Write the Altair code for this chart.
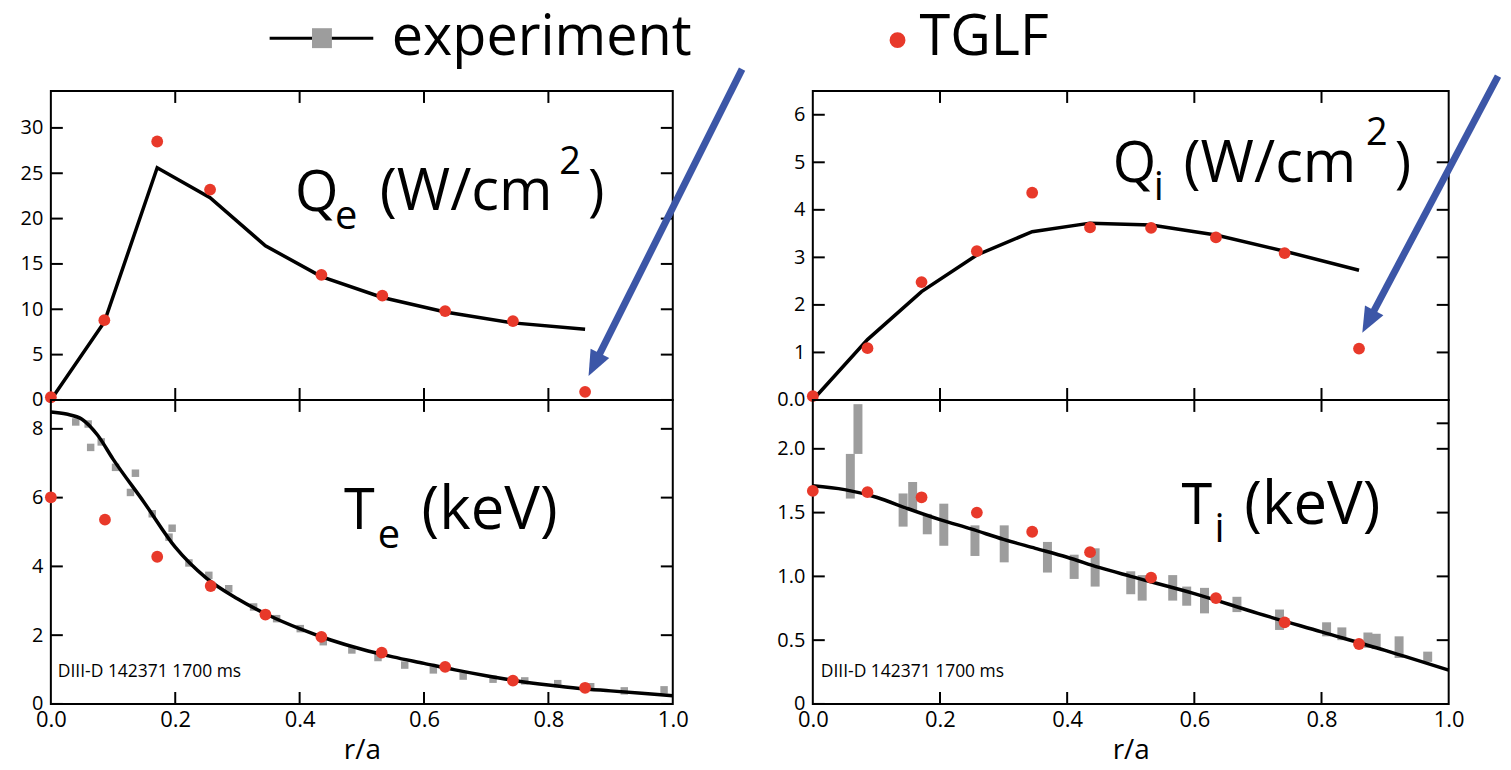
import altair as alt
import pandas as pd

FONT = "Open Sans"
RED = "#e8392a"
GREY = "#9d9d9d"
BLUE = "#3c56a7"

# ---------------- data ----------------
# Q_e (W/cm^2)
qe_tglf_r = [0.0, 0.086, 0.171, 0.256, 0.435, 0.533, 0.634, 0.743, 0.859]
qe_tglf = [0.3, 8.8, 28.5, 23.2, 13.8, 11.5, 9.8, 8.7, 0.9]
qe_exp_r = [0.0, 0.086, 0.171, 0.256, 0.345, 0.435, 0.533, 0.634, 0.743, 0.859]
qe_exp = [0.0, 8.6, 25.6, 22.3, 17.0, 13.6, 11.3, 9.7, 8.5, 7.8]

# Q_i (W/cm^2)
qi_tglf_r = [0.0, 0.086, 0.171, 0.258, 0.345, 0.436, 0.532, 0.634, 0.742, 0.859]
qi_tglf = [0.08, 1.09, 2.48, 3.13, 4.36, 3.63, 3.62, 3.42, 3.09, 1.08]
qi_exp_r = [0.0, 0.086, 0.171, 0.258, 0.345, 0.436, 0.532, 0.634, 0.742, 0.859]
qi_exp = [0.0, 1.27, 2.28, 3.05, 3.54, 3.72, 3.68, 3.47, 3.13, 2.73]

# T_e (keV)
te_tglf_r = [0.0, 0.087, 0.171, 0.257, 0.345, 0.435, 0.532, 0.634, 0.743, 0.859]
te_tglf = [6.01, 5.36, 4.28, 3.43, 2.60, 1.95, 1.49, 1.08, 0.68, 0.47]
te_fit_r = [0.0, 0.025, 0.05, 0.075, 0.1, 0.15, 0.2, 0.25, 0.3, 0.35, 0.4, 0.45,
            0.5, 0.55, 0.6, 0.65, 0.7, 0.75, 0.8, 0.85, 0.9, 0.95, 1.0]
te_fit = [8.49, 8.43, 8.28, 7.82, 7.12, 5.86, 4.56, 3.66, 3.06, 2.58, 2.19, 1.86,
          1.59, 1.37, 1.18, 0.99, 0.82, 0.67, 0.55, 0.45, 0.38, 0.31, 0.24]
te_exp_r = [0.040, 0.060, 0.064, 0.081, 0.104, 0.128, 0.136, 0.163, 0.190, 0.195,
            0.222, 0.254, 0.286, 0.326, 0.363, 0.401, 0.438, 0.484, 0.526, 0.569,
            0.615, 0.663, 0.711, 0.762, 0.815, 0.868, 0.922, 0.986]
te_exp = [8.20, 8.14, 7.46, 7.62, 6.88, 6.15, 6.71, 5.53, 4.85, 5.11,
          4.10, 3.74, 3.35, 2.82, 2.48, 2.19, 1.81, 1.57, 1.35, 1.13,
          0.99, 0.81, 0.72, 0.67, 0.59, 0.50, 0.38, 0.41]

# T_i (keV)
ti_tglf_r = [0.0, 0.086, 0.171, 0.258, 0.345, 0.436, 0.532, 0.634, 0.742, 0.859]
ti_tglf = [1.67, 1.66, 1.62, 1.50, 1.35, 1.19, 0.99, 0.83, 0.64, 0.47]
ti_fit_r = [0.0, 0.05, 0.1, 0.15, 0.2, 0.25, 0.3, 0.35, 0.4, 0.45, 0.5, 0.6, 0.7, 0.8, 0.9, 1.0]
ti_fit = [1.71, 1.68, 1.62, 1.53, 1.445, 1.37, 1.29, 1.22, 1.15, 1.07, 1.0, 0.865, 0.71, 0.565, 0.42, 0.265]
ti_exp_r = [0.059, 0.071, 0.142, 0.157, 0.180, 0.206, 0.255, 0.301, 0.369, 0.411, 0.444, 0.500,
            0.518, 0.566, 0.588, 0.616, 0.667, 0.734, 0.808, 0.832, 0.873, 0.886, 0.922, 0.967]
ti_exp_lo = [1.61, 1.96, 1.39, 1.52, 1.33, 1.24, 1.16, 1.11, 1.03, 0.98, 0.92, 0.86,
             0.81, 0.81, 0.77, 0.71, 0.72, 0.58, 0.53, 0.50, 0.44, 0.43, 0.36, 0.33]
ti_exp_hi = [1.96, 2.35, 1.65, 1.74, 1.49, 1.57, 1.40, 1.40, 1.27, 1.17, 1.22, 1.04,
             1.01, 1.01, 0.92, 0.91, 0.84, 0.74, 0.64, 0.60, 0.56, 0.55, 0.53, 0.41]

# axis ticks / labels
x_ticks = [0.2, 0.4, 0.6, 0.8]
x_labels = [0.0, 0.2, 0.4, 0.6, 0.8, 1.0]
qe_yticks = [0, 5, 10, 15, 20, 25, 30]
qi_yticks = [0, 1, 2, 3, 4, 5, 6]
qi_rticks = [1, 2, 3, 4, 5]
te_yticks = [0, 2, 4, 6, 8]
ti_yticks = [0, 0.5, 1.0, 1.5, 2.0]
ti_rticks = [0.5, 1.0, 1.5, 2.0, 2.2]
shot_label = "DIII-D 142371 1700 ms"

# ---------------- layout ----------------
W_L, W_R = 624, 638
H_T, H_B = 310, 305
TICK = 12
ONE = pd.DataFrame({"k": [0]})


def xscale():
    return alt.Scale(domain=[0, 1], nice=False, zero=False)


def yscale(dom):
    return alt.Scale(domain=dom, nice=False, zero=False)


def yaxis(vals, expr=None, fmt=None):
    kw = dict(values=vals, title=None, ticks=False, domain=False, grid=False,
              labelFontSize=20, labelPadding=8, labelColor="black", labelFont=FONT)
    if expr:
        kw["labelExpr"] = expr
    if fmt:
        kw["format"] = fmt
    return alt.Axis(**kw)


def xaxis(show):
    if not show:
        return None
    return alt.Axis(values=x_labels, format=".1f", title="r/a", ticks=False, domain=False,
                    grid=False, labelFontSize=22, labelPadding=6, labelFlush=False,
                    labelColor="black", labelFont=FONT, titleFont=FONT, titleFontSize=28,
                    titleFontWeight="normal", titlePadding=6, titleColor="black")


def frame_ticks(W, H, ydom, left_vals, right_vals, XA, YA):
    lt = alt.Chart(pd.DataFrame({"v": left_vals})).mark_rule(color="black", strokeWidth=2).encode(
        y=alt.Y("v:Q", scale=yscale(ydom), axis=YA), x=alt.value(0), x2=alt.value(TICK))
    rt = alt.Chart(pd.DataFrame({"v": right_vals})).mark_rule(color="black", strokeWidth=2).encode(
        y=alt.Y("v:Q", scale=yscale(ydom), axis=YA), x=alt.value(W - TICK), x2=alt.value(W))
    xdf = pd.DataFrame({"r": x_ticks})
    bt = alt.Chart(xdf).mark_rule(color="black", strokeWidth=2).encode(
        x=alt.X("r:Q", scale=xscale(), axis=XA), y=alt.value(H - TICK), y2=alt.value(H))
    tt = alt.Chart(xdf).mark_rule(color="black", strokeWidth=2).encode(
        x=alt.X("r:Q", scale=xscale(), axis=XA), y=alt.value(0), y2=alt.value(TICK))
    return [lt, rt, bt, tt]


def txt(s, x, y, size, color="black"):
    return alt.Chart(ONE).mark_text(align="left", baseline="alphabetic", font=FONT,
                                    fontSize=size, color=color).encode(
        x=alt.value(x), y=alt.value(y), text=alt.value(s))


def arrow(x1, y1, xc, yc, ang):
    shaft = alt.Chart(ONE).mark_rule(color=BLUE, strokeWidth=7).encode(
        x=alt.value(x1), y=alt.value(y1), x2=alt.value(xc), y2=alt.value(yc))
    head = alt.Chart(ONE).mark_point(shape="M0,-1L0.82,1L-0.82,1Z", filled=True, color=BLUE,
                                     opacity=1, size=650, angle=ang, strokeWidth=0).encode(
        x=alt.value(xc), y=alt.value(yc))
    return [shaft, head]


def line_layer(r, v, ydom, XA, YA, interp="linear"):
    return alt.Chart(pd.DataFrame({"r": r, "v": v})).mark_line(
        color="black", strokeWidth=3.5, interpolate=interp).encode(
        x=alt.X("r:Q", scale=xscale(), axis=XA),
        y=alt.Y("v:Q", scale=yscale(ydom), axis=YA))


def dots(r, v, ydom, XA, YA):
    return alt.Chart(pd.DataFrame({"r": r, "v": v})).mark_circle(
        size=140, color=RED, opacity=1).encode(
        x=alt.X("r:Q", scale=xscale(), axis=XA),
        y=alt.Y("v:Q", scale=yscale(ydom), axis=YA))


# ---------------- panels ----------------
QE_DOM = [0, 34.07]
XA, YA = xaxis(False), yaxis(qe_yticks)
qe = alt.layer(
    line_layer(qe_exp_r, qe_exp, QE_DOM, XA, YA),
    *frame_ticks(W_L, H_T, QE_DOM, qe_yticks, qe_yticks, XA, YA),
    dots(qe_tglf_r, qe_tglf, QE_DOM, XA, YA),
    txt("Q", 245, 120, 56), txt("e", 285, 138, 40), txt("(W/cm", 330, 119, 58),
    txt("2", 510, 83, 38), txt(")", 539, 119, 56),
    # legend: experiment
    alt.Chart(ONE).mark_rule(color="black", strokeWidth=3).encode(
        x=alt.value(219.5), x2=alt.value(323.5), y=alt.value(-53)),
    alt.Chart(ONE).mark_square(size=400, color=GREY, opacity=1).encode(
        x=alt.value(272), y=alt.value(-53)),
    txt("experiment", 342, -36, 56),
    *arrow(693.5, -22, 545.2, 274.6, 206.6),
).properties(width=W_L, height=H_T)

TE_DOM = [0, 8.84]
XA, YA = xaxis(True), yaxis(te_yticks)
te = alt.layer(
    alt.Chart(pd.DataFrame({"r": te_exp_r, "v": te_exp})).mark_square(
        size=56, color=GREY, opacity=1).encode(
        x=alt.X("r:Q", scale=xscale(), axis=XA),
        y=alt.Y("v:Q", scale=yscale(TE_DOM), axis=YA)),
    line_layer(te_fit_r, te_fit, TE_DOM, XA, YA, "monotone"),
    *frame_ticks(W_L, H_B, TE_DOM, te_yticks, te_yticks, XA, YA),
    dots(te_tglf_r, te_tglf, TE_DOM, XA, YA),
    txt("T", 294, 129, 56), txt("e", 328, 149, 40), txt("(keV)", 372, 129, 60),
    txt(shot_label, 7, 278, 17.5),
).properties(width=W_L, height=H_B)

QI_DOM = [0, 6.5]
XA, YA = xaxis(False), yaxis(qi_yticks, expr="datum.value == 0 ? '0.0' : datum.label")
qi = alt.layer(
    line_layer(qi_exp_r, qi_exp, QI_DOM, XA, YA),
    *frame_ticks(W_R, H_T, QI_DOM, qi_yticks, qi_rticks, XA, YA),
    dots(qi_tglf_r, qi_tglf, QI_DOM, XA, YA),
    txt("Q", 301, 91, 56), txt("i", 342, 109, 40), txt("(W/cm", 372, 91, 58),
    txt("2", 555, 54, 38), txt(")", 584, 91, 56),
    # legend: TGLF
    alt.Chart(ONE).mark_circle(size=254, color=RED, opacity=1).encode(
        x=alt.value(85), y=alt.value(-51)),
    txt("TGLF", 107, -36, 56),
    *arrow(687.5, -15, 557.3, 231.4, 207.9),
).properties(width=W_R, height=H_T)

TI_DOM = [0, 2.383]
XA, YA = xaxis(True), yaxis(ti_yticks, expr="datum.value == 0 ? '0' : datum.label", fmt=".1f")
ti = alt.layer(
    alt.Chart(pd.DataFrame({"r": ti_exp_r, "lo": ti_exp_lo, "hi": ti_exp_hi})).mark_rule(
        color=GREY, strokeWidth=9).encode(
        x=alt.X("r:Q", scale=xscale(), axis=XA),
        y=alt.Y("lo:Q", scale=yscale(TI_DOM), axis=YA), y2="hi:Q"),
    line_layer(ti_fit_r, ti_fit, TI_DOM, XA, YA, "monotone"),
    *frame_ticks(W_R, H_B, TI_DOM, ti_yticks, ti_rticks, XA, YA),
    dots(ti_tglf_r, ti_tglf, TI_DOM, XA, YA),
    txt("T", 370, 124, 56), txt("i", 403, 143, 40), txt("(keV)", 433, 124, 60),
    txt(shot_label, 8, 278, 17.5),
).properties(width=W_R, height=H_B)

chart = alt.concat(
    qe, qi, te, ti, columns=2,
    spacing={"row": 0, "column": 140.5}, bounds="flush", align="each",
).properties(
    padding={"left": 11, "top": 0, "right": 0, "bottom": 0}
).configure(font=FONT, background="white").configure_view(stroke="black", strokeWidth=2)

chart.save("out.html", embed_options={"renderer": "svg", "actions": False})
